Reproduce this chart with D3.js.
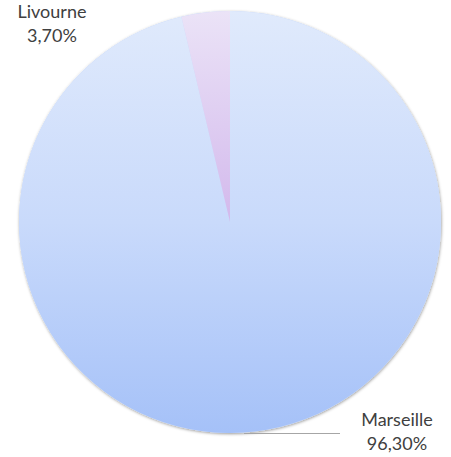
<!DOCTYPE html>
<html><head><meta charset="utf-8">
<script src="https://cdn.jsdelivr.net/npm/d3@7"></script>
<style>body{margin:0;background:#fff}</style>
</head><body>
<svg id="c" width="451" height="457"></svg>
<script>
const categories = ["Marseille", "Livourne"];
const values = [96.30, 3.70];
const labels = ["96,30%", "3,70%"];

const svg = d3.select("#c");
const cx = 230, cy = 222, r = 211;
const defs = svg.append("defs");
const g1 = defs.append("linearGradient").attr("id","gM").attr("gradientUnits","userSpaceOnUse")
  .attr("x1",0).attr("y1",-r).attr("x2",0).attr("y2",r);
g1.append("stop").attr("offset","0%").attr("stop-color","#e0eafc");
g1.append("stop").attr("offset","50%").attr("stop-color","#c9dafb");
g1.append("stop").attr("offset","100%").attr("stop-color","#a5c1f8");
const g2 = defs.append("linearGradient").attr("id","gL").attr("gradientUnits","userSpaceOnUse")
  .attr("x1",0).attr("y1",-r).attr("x2",0).attr("y2",0);
g2.append("stop").attr("offset","0%").attr("stop-color","#ebe3f7");
g2.append("stop").attr("offset","100%").attr("stop-color","#d3b9ec");
const f = defs.append("filter").attr("id","sh").attr("x","-10%").attr("y","-10%").attr("width","120%").attr("height","120%");
f.append("feDropShadow").attr("dx",0.5).attr("dy",1).attr("stdDeviation",1.5).attr("flood-color","#000").attr("flood-opacity",0.4);

const pie = d3.pie().sort(null).value(d => d.v);
const data = pie(categories.map((c,i)=>({c, v: values[i], l: labels[i]})));
const arc = d3.arc().innerRadius(0).outerRadius(r);
const g = svg.append("g").attr("transform",`translate(${cx},${cy})`);
g.append("circle").attr("r",r).attr("fill","#c9dafb").attr("filter","url(#sh)");
g.selectAll("path").data(data).join("path")
  .attr("d",arc)
  .attr("fill",(d,i)=> i===0 ? "url(#gM)" : "url(#gL)");

// leader line for Marseille
svg.append("line").attr("x1",cx+14).attr("y1",cy+r+0.5).attr("x2",340).attr("y2",cy+r+0.5)
  .attr("stroke","#a6a6a6").attr("stroke-width",1);

const font = "Lato, 'Open Sans', sans-serif";
function lab(x,y,lines){
  const t = svg.append("text").attr("x",x).attr("y",y).attr("text-anchor","middle")
    .attr("font-family",font).attr("font-size",18).attr("fill","#404040");
  lines.forEach((s,i)=> t.append("tspan").attr("x",x).attr("dy", i?24:0).text(s));
}
lab(52,18,[data[1].data.c, data[1].data.l]);
lab(397,426,[data[0].data.c, data[0].data.l]);
</script>
</body></html>
